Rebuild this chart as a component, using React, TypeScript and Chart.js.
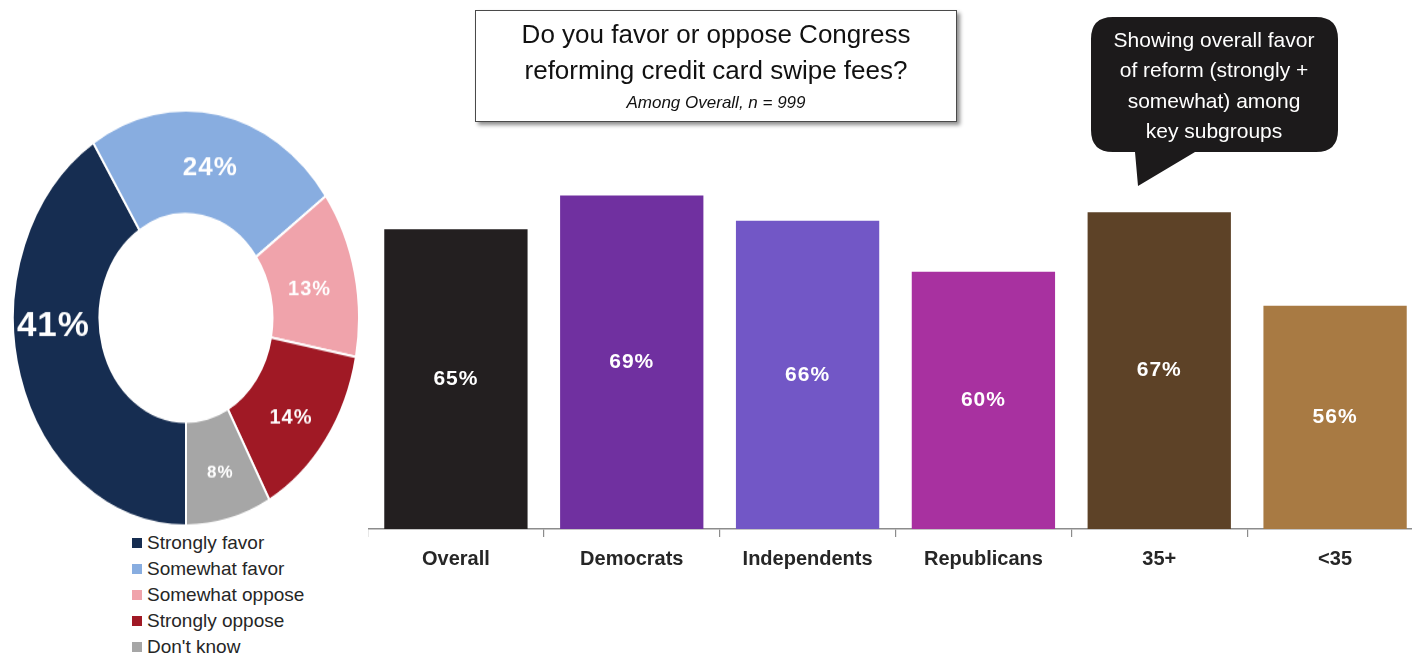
import React, { useEffect, useRef } from "react";
import { Chart, registerables } from "chart.js";

Chart.register(...registerables);

// ---------- data ----------
const pieLabels = ["Strongly favor", "Somewhat favor", "Somewhat oppose", "Strongly oppose", "Don't know"];
const pieValues = [41, 24, 13, 14, 8];
const pieColors = ["#162d51", "#88ade0", "#f0a3ab", "#a01925", "#a6a6a6"];

const barCategories = ["Overall", "Democrats", "Independents", "Republicans", "35+", "<35"];
const barValues = [65, 69, 66, 60, 67, 56];
const barColors = ["#231f20", "#7030a0", "#7257c6", "#a831a0", "#5d4227", "#a87a43"];

const titleLines = ["Do you favor or oppose Congress", "reforming credit card swipe fees?"];
const subtitle = "Among Overall, n = 999";
const calloutLines = ["Showing overall favor", "of reform (strongly +", "somewhat) among", "key subgroups"];

// ---------- styles ----------
const FONT = "'Liberation Sans', Arial, Helvetica, sans-serif";
const STRETCH = 1.2;
const pieLabelSizes = [35, 26, 20, 20, 17];
const pieLabelNudge = [
  [-8, -35],
  [0, 3],
  [-3, 6],
  [0, 9],
  [2, 4],
];

const pieLabelPlugin = {
  id: "pieLabelPlugin",
  afterDatasetsDraw(chart: any) {
    const ctx = chart.ctx;
    const meta = chart.getDatasetMeta(0);
    meta.data.forEach((arc: any, i: number) => {
      const p = arc.tooltipPosition(false);
      ctx.save();
      ctx.translate(p.x + pieLabelNudge[i][0], p.y + pieLabelNudge[i][1] / STRETCH);
      ctx.scale(1, 1 / STRETCH);
      ctx.font = `bold ${pieLabelSizes[i]}px ${FONT}`;
      (ctx as any).letterSpacing = "1px";
      ctx.fillStyle = "#ffffff";
      ctx.textAlign = "center";
      ctx.textBaseline = "middle";
      ctx.fillText(`${pieValues[i]}%`, 0, 0);
      ctx.restore();
    });
  },
};

const barLabelPlugin = {
  id: "barLabelPlugin",
  afterDatasetsDraw(chart: any) {
    const ctx = chart.ctx;
    const meta = chart.getDatasetMeta(0);
    const bottom = chart.chartArea.bottom;
    meta.data.forEach((bar: any, i: number) => {
      const x = bar.x;
      const y = (bar.y + bottom) / 2;
      ctx.save();
      ctx.font = `bold 21px ${FONT}`;
      (ctx as any).letterSpacing = "1px";
      ctx.fillStyle = "#ffffff";
      ctx.textAlign = "center";
      ctx.textBaseline = "middle";
      ctx.fillText(`${barValues[i]}%`, x, y);
      ctx.restore();
    });
  },
};

function Doughnut() {
  const ref = useRef<HTMLCanvasElement>(null);
  useEffect(() => {
    if (!ref.current) return;
    const chart = new Chart(ref.current, {
      type: "doughnut",
      data: {
        labels: pieLabels,
        datasets: [
          {
            data: pieValues,
            backgroundColor: pieColors,
            borderColor: "#ffffff",
            borderWidth: 2,
          },
        ],
      },
      options: {
        animation: false,
        responsive: true,
        maintainAspectRatio: false,
        rotation: 180,
        cutout: "50%",
        layout: { padding: 0 },
        plugins: { legend: { display: false }, tooltip: { enabled: false } },
      },
      plugins: [pieLabelPlugin],
    });
    return () => chart.destroy();
  }, []);
  return (
    <div
      style={{
        position: "absolute",
        left: 12,
        top: 143.5,
        width: 348,
        height: 348,
        transform: `scaleY(${STRETCH})`,
        transformOrigin: "50% 50%",
      }}
    >
      <canvas ref={ref} />
    </div>
  );
}

function Bars() {
  const ref = useRef<HTMLCanvasElement>(null);
  useEffect(() => {
    if (!ref.current) return;
    const chart = new Chart(ref.current, {
      type: "bar",
      data: {
        labels: barCategories,
        datasets: [
          {
            data: barValues,
            backgroundColor: barColors,
            borderWidth: 0,
            categoryPercentage: 1,
            barPercentage: 0.815,
          },
        ],
      },
      options: {
        animation: false,
        responsive: true,
        maintainAspectRatio: false,
        layout: { padding: 0 },
        plugins: { legend: { display: false }, tooltip: { enabled: false } },
        scales: {
          x: {
            grid: {
              display: true,
              drawOnChartArea: false,
              drawTicks: true,
              tickLength: 8,
              color: "#8c8c8c",
              lineWidth: 1.2,
              offset: true,
            },
            border: { display: true, color: "#8c8c8c", width: 1.5 },
            ticks: {
              color: "#262626",
              font: { family: FONT, size: 20, weight: "bold" },
              padding: 10,
            },
            afterFit: (s: any) => {
              s.height = 50;
            },
          },
          y: { display: false, min: 29.7, max: 80 },
        },
      },
      plugins: [barLabelPlugin],
    });
    return () => chart.destroy();
  }, []);
  return (
    <div style={{ position: "absolute", left: 368, top: 102, width: 1055, height: 477 }}>
      <canvas ref={ref} />
    </div>
  );
}

function Legend() {
  return (
    <div style={{ position: "absolute", left: 132, top: 530, fontFamily: FONT, fontSize: 19, color: "#262626" }}>
      {pieLabels.map((l, i) => (
        <div key={l} style={{ display: "flex", alignItems: "center", height: 26 }}>
          <span style={{ width: 10, height: 10, background: pieColors[i], marginRight: 5, display: "inline-block" }} />
          <span>{l}</span>
        </div>
      ))}
    </div>
  );
}

function TitleBox() {
  return (
    <div
      style={{
        position: "absolute",
        left: 475,
        top: 10,
        width: 480,
        height: 110,
        border: "1.5px solid #4a4a4a",
        boxShadow: "3px 3px 4px rgba(0,0,0,0.45)",
        background: "#fff",
        fontFamily: FONT,
        textAlign: "center",
        color: "#111",
      }}
    >
      <div style={{ fontSize: 26, lineHeight: "36px", marginTop: 5 }}>{titleLines[0]}</div>
      <div style={{ fontSize: 26, lineHeight: "36px" }}>{titleLines[1]}</div>
      <div style={{ fontSize: 17, fontStyle: "italic", lineHeight: "22px", marginTop: 4 }}>{subtitle}</div>
    </div>
  );
}

function Callout() {
  return (
    <svg style={{ position: "absolute", left: 1085, top: 12 }} width={260} height={180}>
      <path
        d="M 28 5 L 231 5 Q 253 5 253 27 L 253 118 Q 253 140 231 140 L 110 140 L 53 174 L 50 140 L 28 140 Q 6 140 6 118 L 6 27 Q 6 5 28 5 Z"
        fill="#1c1a1b"
      />
      {calloutLines.map((l, i) => (
        <text
          key={i}
          x={129}
          y={35 + i * 30.3}
          textAnchor="middle"
          fill="#ffffff"
          style={{ fontFamily: FONT, fontSize: 21 }}
        >
          {l}
        </text>
      ))}
    </svg>
  );
}

export default function App() {
  return (
    <div
      style={{
        position: "absolute",
        left: 0,
        top: 0,
        width: 1412,
        height: 655,
        overflow: "hidden",
        background: "#ffffff",
      }}
    >
      <Doughnut />
      <Bars />
      <TitleBox />
      <Callout />
      <Legend />
    </div>
  );
}
